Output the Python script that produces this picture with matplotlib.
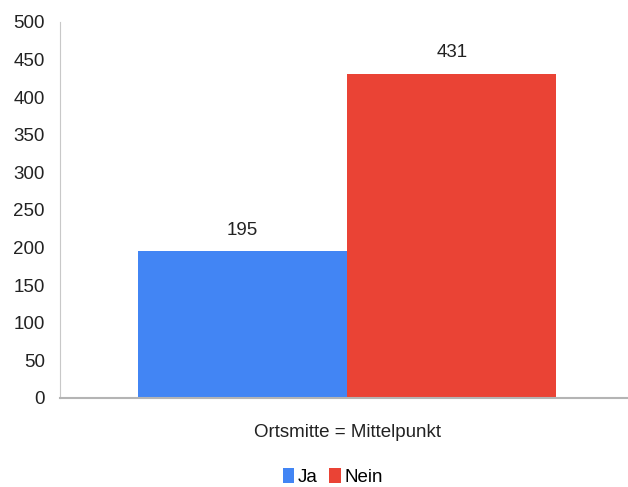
import matplotlib.pyplot as plt
from matplotlib.patches import Patch

plt.rcParams['font.family'] = ['Liberation Sans', 'DejaVu Sans']

category = "Ortsmitte = Mittelpunkt"
series = ["Ja", "Nein"]
values = [195, 431]
colors = ["#4285f4", "#ea4335"]
yticks = [0, 50, 100, 150, 200, 250, 300, 350, 400, 450, 500]

fig = plt.figure(figsize=(6.28, 4.87), dpi=100)
ax = fig.add_axes([60 / 628, 89 / 487, 568 / 628, 376 / 487])

bar_w = 0.368
offsets = [-bar_w / 2, bar_w / 2]
for name, val, col, off in zip(series, values, colors, offsets):
    ax.bar(off, val, width=bar_w, color=col, label=name)
    ax.text(off, val + 17, str(val), ha='center', va='bottom', fontsize=13.5, color='#222222')

ax.set_xlim(-0.5056, 0.4944)
ax.set_ylim(0, 500)
ax.set_yticks(yticks)
ax.set_xticks([0])
ax.set_xticklabels([category])
ax.tick_params(axis='y', length=0, pad=11, labelsize=13.5, labelcolor='#222222')
ax.tick_params(axis='x', length=0, pad=19, labelsize=13.5, labelcolor='#222222')

for s in ['top', 'right']:
    ax.spines[s].set_visible(False)
ax.spines['left'].set_color('#c8c8c8')
ax.spines['bottom'].set_color('#b4b4b4')
ax.spines['bottom'].set_linewidth(1.5)

handles = [Patch(facecolor=c, label=n) for n, c in zip(series, colors)]
fig.legend(handles=handles, loc='center', bbox_to_anchor=(333 / 628, 1 - 477 / 487),
           ncol=2, frameon=False, fontsize=13.5, handlelength=0.6, handleheight=0.8,
           handletextpad=0.2, columnspacing=0.6)

fig.savefig('out.png', dpi=100)
